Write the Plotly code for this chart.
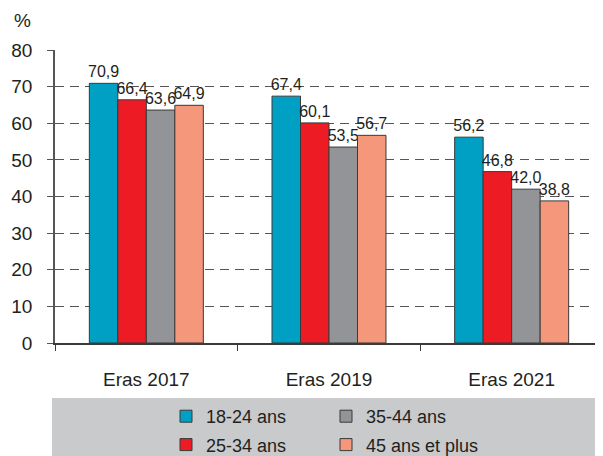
import plotly.graph_objects as go

categories = ["Eras 2017", "Eras 2019", "Eras 2021"]
series_names = ["18-24 ans", "25-34 ans", "35-44 ans", "45 ans et plus"]
values_18_24 = [70.9, 67.4, 56.2]
values_25_34 = [66.4, 60.1, 46.8]
values_35_44 = [63.6, 53.5, 42.0]
values_45_plus = [64.9, 56.7, 38.8]
y_ticks = [0, 10, 20, 30, 40, 50, 60, 70, 80]

colors = ["#009fc4", "#ed1c24", "#929497", "#f4977b"]
FONT = "Liberation Sans, Arial, sans-serif"
TEXT = "#231f20"

# the page body keeps its default 8px margin, so the figure is 8px smaller
# and every screen position below is shifted by OFF
OFF = 8
W, H = 603 - OFF, 456 - OFF
L, R, T, B = 55 - OFF, 0, 50 - OFF, 456 - 343
plot_h = H - T - B
plot_w = W - L - R


def py(screen_y):
    """Screen row (from top of window) to paper y."""
    return (H - B - (screen_y - OFF)) / plot_h


def px_x(screen_x):
    return (screen_x - OFF - L) / plot_w


def fmt(v):
    return f"{v:.1f}".replace(".", ",")


fig = go.Figure()
x = list(range(len(categories)))
all_values = [values_18_24, values_25_34, values_35_44, values_45_plus]
legends = ["legend", "legend", "legend2", "legend2"]

for i, (name, vals) in enumerate(zip(series_names, all_values)):
    fig.add_trace(
        go.Bar(
            x=x,
            y=vals,
            name=name,
            marker=dict(color=colors[i], line=dict(color="#3a3a3a", width=1)),
            text=[fmt(v) for v in vals],
            textposition="outside",
            constraintext="none",
            textfont=dict(family=FONT, size=16, color=TEXT),
            cliponaxis=False,
            legend=legends[i],
            legendgroup=name,
        )
    )

legend_style = dict(
    orientation="v",
    bgcolor="rgba(0,0,0,0)",
    font=dict(family=FONT, size=18, color=TEXT),
    tracegroupgap=2,
    yanchor="top",
    xanchor="left",
    y=py(398),
)

fig.update_layout(
    width=W,
    height=H,
    margin=dict(l=L, r=R, t=T, b=B, pad=0, autoexpand=False),
    paper_bgcolor="white",
    plot_bgcolor="white",
    barmode="group",
    bargap=0.376,
    bargroupgap=0,
    showlegend=True,
    legend=dict(legend_style, x=px_x(166)),
    legend2=dict(legend_style, x=px_x(326)),
    font=dict(family=FONT, size=18, color=TEXT),
    xaxis=dict(
        range=[-0.5, 2.5],
        tickmode="array",
        tickvals=x,
        ticktext=categories,
        ticks="",
        showgrid=False,
        showline=True,
        linecolor="#3a3a3a",
        linewidth=1.5,
        ticklabelstandoff=18,
        tickfont=dict(family=FONT, size=19, color=TEXT),
        minor=dict(
            tickmode="array",
            tickvals=[-0.5, 0.5, 1.5, 2.5],
            ticks="outside",
            ticklen=6,
            tickcolor="#3a3a3a",
            showgrid=False,
        ),
        zeroline=False,
        fixedrange=True,
    ),
    yaxis=dict(
        range=[0, 80],
        tickmode="array",
        tickvals=y_ticks,
        ticks="outside",
        ticklen=6,
        tickcolor="#555555",
        showline=True,
        linecolor="#555555",
        linewidth=1.5,
        showgrid=True,
        gridcolor="#555555",
        gridwidth=1,
        griddash="9px,6px",
        zeroline=False,
        ticklabelstandoff=11,
        tickfont=dict(family=FONT, size=19, color=TEXT),
    ),
    shapes=[
        dict(
            type="rect",
            xref="paper",
            yref="paper",
            x0=px_x(52),
            x1=1.0,
            y0=py(398),
            y1=py(470),
            fillcolor="#c9cacc",
            line=dict(width=0),
            layer="below",
        )
    ],
    annotations=[
        dict(
            text="%",
            xref="paper",
            yref="paper",
            x=px_x(22),
            y=py(20),
            showarrow=False,
            xanchor="center",
            yanchor="middle",
            font=dict(family=FONT, size=19, color=TEXT),
        )
    ],
)

fig.write_html("out.html")
